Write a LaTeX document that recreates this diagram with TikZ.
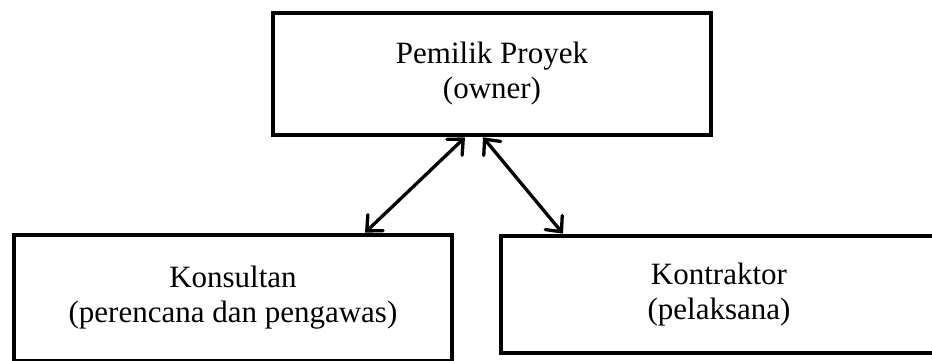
\documentclass[tikz,border=0pt]{standalone}
\usepackage{fontspec}
\setmainfont{Liberation Serif}
\usetikzlibrary{arrows.meta,calc}
\begin{document}
\begin{tikzpicture}[x=1pt,y=1pt,
  box/.style={draw=black, line width=4.7pt, rectangle, inner sep=0pt, align=center,
    font=\fontsize{31}{35}\selectfont},
  link/.style={line width=3.3pt, line cap=round,
    {Straight Barb[length=12pt,width=22pt,line cap=round]}-{Straight Barb[length=12pt,width=22pt,line cap=round]}}]
\useasboundingbox (0,0) rectangle (932,360);
\clip (0,0) rectangle (932,360);
\node[box, minimum width=438pt, minimum height=122pt] (top) at (492,286) {Pemilik Proyek\\(owner)};
\node[box, minimum width=438pt, minimum height=126pt] (kons) at (233,62) {Konsultan\\(perencana dan pengawas)};
\node[box, minimum width=436pt, minimum height=117pt] (kont) at (719,65.5) {Kontraktor\\(pelaksana)};
\draw[link] ($(top.south)+(-27,0)$) -- ($(kons.north)+(132,0)$);
\draw[link] ($(top.south)+(-9,0)$) -- ($(kont.north)+(-156,0)$);
\end{tikzpicture}
\end{document}
